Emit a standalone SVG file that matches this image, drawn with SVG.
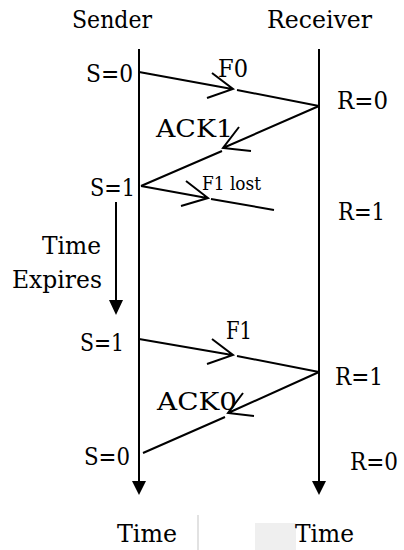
<svg xmlns="http://www.w3.org/2000/svg" width="404" height="550" viewBox="0 0 404 550">
<style>
text{font-family:'DejaVu Serif','Liberation Serif',serif;font-size:25px;fill:#000}
.sm{font-size:18px}
.ln{stroke:#000;stroke-width:2;fill:none}
.hd{fill:#000;stroke:none}
</style>
<rect width="404" height="550" fill="#fff"/>
<rect x="255" y="523" width="41" height="27" fill="#efefef"/>
<line x1="198" y1="515" x2="198" y2="550" stroke="#e2e2e2" stroke-width="2"/>
<g id="sender">
<text x="72" y="28" textLength="80" lengthAdjust="spacingAndGlyphs">Sender</text>
<line class="ln" x1="139" y1="49" x2="139" y2="483"/>
<polygon class="hd" points="132,481 146,481 139,495"/>
<text x="117" y="542" textLength="60" lengthAdjust="spacingAndGlyphs">Time</text>
</g>
<g id="receiver">
<text x="267" y="28" textLength="105" lengthAdjust="spacingAndGlyphs">Receiver</text>
<line class="ln" x1="319" y1="49" x2="319" y2="483"/>
<polygon class="hd" points="312,481 326,481 319,495"/>
<text x="295" y="542" textLength="59" lengthAdjust="spacingAndGlyphs">Time</text>
</g>
<g id="states">
<text x="86" y="82" textLength="47" lengthAdjust="spacingAndGlyphs">S=0</text>
<text x="337" y="109" textLength="51" lengthAdjust="spacingAndGlyphs">R=0</text>
<text x="90" y="196" textLength="45" lengthAdjust="spacingAndGlyphs">S=1</text>
<text x="338" y="220" textLength="47" lengthAdjust="spacingAndGlyphs">R=1</text>
<text x="80" y="351" textLength="44" lengthAdjust="spacingAndGlyphs">S=1</text>
<text x="335" y="385" textLength="48" lengthAdjust="spacingAndGlyphs">R=1</text>
<text x="84" y="465" textLength="46" lengthAdjust="spacingAndGlyphs">S=0</text>
<text x="350" y="470" style="font-size:23.5px" textLength="48" lengthAdjust="spacingAndGlyphs">R=0</text>
</g>
<g id="timer">
<line class="ln" x1="116" y1="202" x2="116" y2="302"/>
<polygon class="hd" points="109,300 123,300 116,315"/>
<text x="42" y="254" textLength="59" lengthAdjust="spacingAndGlyphs">Time</text>
<text x="12" y="288" textLength="90" lengthAdjust="spacingAndGlyphs">Expires</text>
</g>
<g id="connectors">
<path class="ln" d="M139,72 L232,89 M237,90 L319,106 M212,73 L233,89 L207,98"/>
<path class="ln" d="M319,106 L223,148 M222,151 L141,186 M239,127 L223,148 L251,151"/>
<path class="ln" d="M141,186 L207,198 M211,199 L274,210 M186,181 L208,198 L181,206"/>
<path class="ln" d="M139,339 L232,355 M237,356 L319,372 M212,339 L233,355 L207,364"/>
<path class="ln" d="M319,372 L228,413 M225,417 L143,453 M243,393 L228,413 L254,416"/>
</g>
<g id="labels">
<text x="218" y="77" textLength="30" lengthAdjust="spacingAndGlyphs">F0</text>
<text x="156" y="137" textLength="77" lengthAdjust="spacingAndGlyphs">ACK1</text>
<text class="sm" x="202" y="190" textLength="59" lengthAdjust="spacingAndGlyphs">F1 lost</text>
<text x="226" y="339" textLength="26" lengthAdjust="spacingAndGlyphs">F1</text>
<text x="157" y="410" textLength="80" lengthAdjust="spacingAndGlyphs">ACK0</text>
</g>
</svg>
